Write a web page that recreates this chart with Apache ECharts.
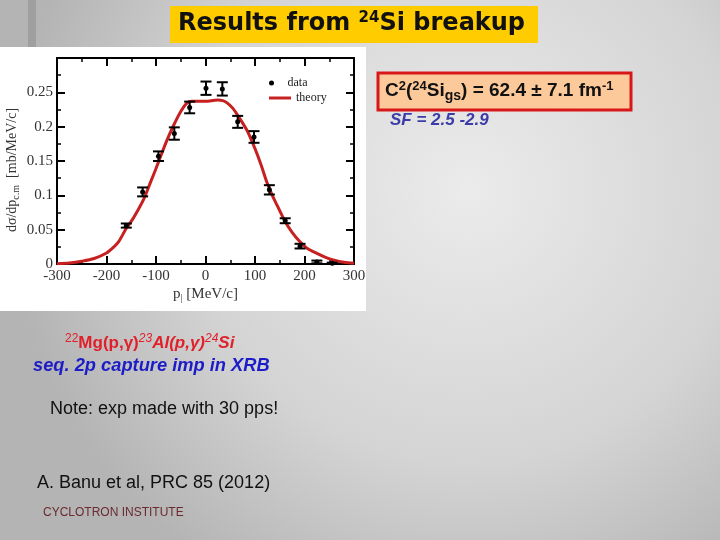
<!DOCTYPE html>
<html><head><meta charset="utf-8">
<script src="https://cdn.jsdelivr.net/npm/echarts@6/dist/echarts.min.js"></script>
<style>html,body{margin:0;padding:0;}#c{width:720px;height:540px;}</style>
</head><body><div id="c"></div>
<script>
// ---- data ----
const dataX   = [-160, -127, -95, -63, -32, 1, 34, 65, 98, 129, 161, 191, 225, 256];
const dataY   = [0.056, 0.105, 0.157, 0.190, 0.228, 0.256, 0.255, 0.207, 0.185, 0.108, 0.063, 0.026, 0.003, 0.001];
const dataErr = [0.003, 0.0065, 0.007, 0.009, 0.0085, 0.0097, 0.0097, 0.0087, 0.0085, 0.0068, 0.0036, 0.0034, 0.002, 0.001];

const theoryX = [-300,-275,-250,-225,-200,-185,-175,-160,-150,-140,-125,-110,-100,-90,-78,-65,-50,-38,-28,-10,5,15,25,35,43,55,70,85,100,112,124,135,145,160,175,190,205,225,245,260,280,300];
const theoryY = [0.0005,0.0015,0.004,0.008,0.016,0.025,0.033,0.052,0.062,0.074,0.094,0.121,0.139,0.158,0.18,0.201,0.222,0.234,0.237,0.237,0.237,0.238,0.239,0.238,0.235,0.227,0.211,0.193,0.168,0.145,0.119,0.1,0.085,0.063,0.046,0.033,0.023,0.0155,0.009,0.0055,0.0025,0.001];

const xTicks = [-300, -200, -100, 0, 100, 200, 300];
const yTicks = [0, 0.05, 0.1, 0.15, 0.2, 0.25];

const errData = dataX.map((x, i) => [x, dataY[i], dataErr[i]]);
const theoryData = theoryX.map((x, i) => [x, theoryY[i]]);

const serif = 'Liberation Serif';
const sans = 'Liberation Sans';

const chart = echarts.init(document.getElementById('c'));

const axisCommon = {
  type: 'value',
  axisLine: { show: true, onZero: false, lineStyle: { color: '#000', width: 2 } },
  axisTick: { show: true, inside: true, length: 8, lineStyle: { color: '#000', width: 2 } },
  minorTick: { show: true, splitNumber: 2, length: 4, lineStyle: { color: '#000', width: 1.5 } },
  splitLine: { show: false }
};

chart.setOption({
  backgroundColor: {
    type: 'radial', x: 0.65, y: 0.35, r: 0.85,
    colorStops: [
      { offset: 0, color: '#ebebeb' },
      { offset: 0.6, color: '#d4d4d4' },
      { offset: 1, color: '#b4b4b4' }
    ]
  },
  animation: false,
  grid: { left: 57, right: 366, top: 58, bottom: 276 },
  legend: [
    { data: [{ name: 'data', icon: 'circle' }], left: 264, top: 72, itemWidth: 22, itemHeight: 5,
      textStyle: { fontFamily: serif, fontSize: 12, color: '#222' } },
    { data: [{ name: 'theory', icon: 'rect' }], left: 264, top: 87, itemWidth: 22, itemHeight: 3,
      textStyle: { fontFamily: serif, fontSize: 12, color: '#222' } }
  ],
  xAxis: [
    Object.assign({}, axisCommon, {
      min: -300, max: 300, interval: 100, position: 'bottom',
      axisLabel: { show: true, margin: 5, fontFamily: serif, fontSize: 15, color: '#333',
        customValues: xTicks },
      name: 'p{sub||} [MeV/c]', nameLocation: 'middle', nameGap: 21,
      nameTextStyle: { fontFamily: serif, fontSize: 15, color: '#333',
        rich: { sub: { fontFamily: serif, fontSize: 10, color: '#333', verticalAlign: 'bottom', padding: [8, 0, 0, 0] } } }
    }),
    Object.assign({}, axisCommon, {
      min: -300, max: 300, interval: 100, position: 'top',
      axisLabel: { show: false }
    })
  ],
  yAxis: [
    Object.assign({}, axisCommon, {
      min: 0, max: 0.3, interval: 0.05, position: 'left',
      axisLabel: { show: true, margin: 4, fontFamily: serif, fontSize: 15, color: '#333',
        customValues: yTicks },
      name: 'dσ/dp{sub|c.m}  [mb/MeV/c]', nameLocation: 'middle', nameGap: 36,
      nameTextStyle: { fontFamily: serif, fontSize: 14, color: '#333', padding: [0, 18, 0, 0],
        rich: { sub: { fontFamily: serif, fontSize: 10, color: '#333', padding: [8, 0, 0, 0] } } }
    }),
    Object.assign({}, axisCommon, {
      min: 0, max: 0.3, interval: 0.05, position: 'right',
      axisLabel: { show: false }
    })
  ],
  series: [
    {
      name: 'theory', type: 'line', data: theoryData, smooth: 0.3,
      showSymbol: false, symbol: 'none',
      lineStyle: { color: '#c62020', width: 3 }, itemStyle: { color: '#c62020' }, z: 2
    },
    {
      name: 'data', type: 'custom', data: errData, z: 3,
      itemStyle: { color: '#000' },
      renderItem: function (params, api) {
        const x = api.value(0), y = api.value(1), e = api.value(2);
        const c = api.coord([x, y]);
        const lo = api.coord([x, y - e]);
        const hi = api.coord([x, y + e]);
        const hw = 5.5;
        const st = { stroke: '#000', lineWidth: 2 };
        return {
          type: 'group',
          children: [
            { type: 'line', shape: { x1: c[0], y1: lo[1], x2: c[0], y2: hi[1] }, style: st },
            { type: 'line', shape: { x1: c[0] - hw, y1: lo[1], x2: c[0] + hw, y2: lo[1] }, style: st },
            { type: 'line', shape: { x1: c[0] - hw, y1: hi[1], x2: c[0] + hw, y2: hi[1] }, style: st },
            { type: 'circle', shape: { cx: c[0], cy: c[1], r: 2.5 }, style: { fill: '#000' } }
          ]
        };
      }
    }
  ],
  graphic: [
    { type: 'rect', z: -10, shape: { x: 0, y: 47, width: 366, height: 264 }, style: { fill: '#ffffff' } },
    { type: 'rect', z: -9, shape: { x: 28, y: 0, width: 8, height: 47 }, style: { fill: 'rgba(120,120,120,0.35)' } },
    // title
    { type: 'rect', z: 5, shape: { x: 170, y: 6, width: 368, height: 37 }, style: { fill: '#ffcc00' } },
    { type: 'text', z: 6, left: 178, top: 11,
      style: { text: 'Results from {sup|24}Si breakup', fontFamily: 'DejaVu Sans', fontWeight: 'bold', fontSize: 24, fill: '#111',
        rich: { sup: { fontFamily: 'DejaVu Sans', fontWeight: 'bold', fontSize: 15, fill: '#111', padding: [0, 0, 11, 0] } } } },
    // C2 box
    { type: 'rect', z: 5, shape: { x: 378, y: 73, width: 253, height: 37 }, style: { fill: '#fcc99b', stroke: '#d81818', lineWidth: 3 } },
    { type: 'text', z: 6, left: 385, top: 80,
      style: { text: 'C{sup|2}({sup|24}Si{sub|gs}) = 62.4 ± 7.1 fm{sup|-1}', fontFamily: sans, fontWeight: 'bold', fontSize: 19, fill: '#111',
        rich: {
          sup: { fontFamily: sans, fontWeight: 'bold', fontSize: 13, fill: '#111', padding: [0, 0, 9, 0] },
          sub: { fontFamily: sans, fontWeight: 'bold', fontSize: 14, fill: '#111', padding: [11, 0, 0, 0] }
        } } },
    { type: 'text', z: 6, left: 390, top: 112,
      style: { text: 'SF = 2.5 -2.9', fontFamily: sans, fontWeight: 'bold', fontStyle: 'italic', fontSize: 17, fill: '#3c3ca8' } },
    // left bottom texts
    { type: 'text', z: 6, left: 65, top: 333,
      style: { text: '{s|22}{u|Mg(p,γ)}{si|23}{i|Al(p,γ)}{si|24}{i|Si}', fill: '#e0202a',
        rich: {
          s: { fontFamily: sans, fontSize: 12, fill: '#e0202a', padding: [0, 0, 8, 0] },
          si: { fontFamily: sans, fontStyle: 'italic', fontSize: 12, fill: '#e0202a', padding: [0, 0, 8, 0] },
          u: { fontFamily: sans, fontWeight: 'bold', fontSize: 17, fill: '#e0202a' },
          i: { fontFamily: sans, fontWeight: 'bold', fontStyle: 'italic', fontSize: 17, fill: '#e0202a' }
        } } },
    { type: 'text', z: 6, left: 33, top: 357,
      style: { text: 'seq. 2p capture imp in XRB', fontFamily: sans, fontWeight: 'bold', fontStyle: 'italic', fontSize: 18.3, fill: '#1c1cc8' } },
    { type: 'text', z: 6, left: 50, top: 400,
      style: { text: 'Note: exp made with 30 pps!', fontFamily: sans, fontSize: 18, fill: '#111' } },
    { type: 'text', z: 6, left: 37, top: 474,
      style: { text: 'A. Banu et al, PRC 85 (2012)', fontFamily: sans, fontSize: 18, fill: '#111' } },
    { type: 'text', z: 6, left: 43, top: 507,
      style: { text: 'CYCLOTRON INSTITUTE', fontFamily: sans, fontSize: 12, fill: '#6a2a30' } }
  ]
});
</script></body></html>
